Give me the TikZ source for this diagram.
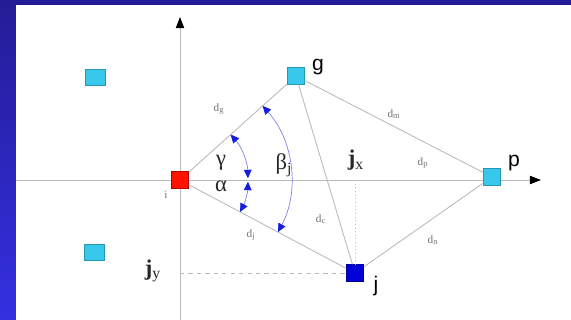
\documentclass[tikz,border=0pt]{standalone}
\usepackage{fontspec}
\setmainfont{Liberation Serif}
\newfontfamily\namefont{Liberation Sans}
\usetikzlibrary{arrows.meta}

\definecolor{slidedark}{RGB}{36,28,150}
\definecolor{slidelight}{RGB}{52,48,225}
\definecolor{sensorcyan}{RGB}{55,200,235}
\definecolor{linegray}{RGB}{185,185,185}
\definecolor{arcblue}{RGB}{20,30,220}

\begin{document}
\begin{tikzpicture}[
			x=0.025cm, y=-0.025cm,
			anchorbox/.style={rectangle, draw=sensorcyan!75!black, fill=sensorcyan, minimum size=4.25mm, inner sep=0pt},
			edge/.style={draw=linegray, line width=0.6pt},
			anglearc/.style={draw=arcblue!55, line width=0.5pt, {Triangle[length=6pt,width=5.5pt,arcblue]}-{Triangle[length=6pt,width=5.5pt,arcblue]}},
			dist/.style={text=gray!90!black, font=\fontsize{8}{9}\selectfont},
			vertexlabel/.style={font=\namefont\fontsize{15}{18}\selectfont},
			greek/.style={text=black!85, font=\fontsize{16}{18}\selectfont}
			]
			\useasboundingbox (0,0) rectangle (571,320);
			% slide background
			\fill[top color=slidedark, bottom color=slidelight] (0,0) rectangle (571,320);
			\fill[white] (16,5) rectangle (571,320);
			
			% axes
			\coordinate (xstart) at (16,180);
			\coordinate (xend) at (541,180);
			\coordinate (ystart) at (180,320);
			\coordinate (yend) at (180,17);
			\draw[linegray, line width=0.6pt, -{Triangle[black,length=8pt,width=6pt]}] (xstart) -- (xend);
			\draw[linegray, line width=0.6pt, -{Triangle[black,length=8pt,width=6pt]}] (ystart) -- (yend);
			
			% nodes
			\node[anchorbox, fill=red!85!orange, draw=red!70!black] (i) at (180,180) {};
			\node[anchorbox] (g) at (296,76) {};
			\node[anchorbox] (p) at (492,177) {};
			\node[anchorbox, fill=blue!85!black, draw=blue!60!black] (j) at (355,273) {};
			\node[anchorbox, minimum width=5mm, minimum height=4mm] (n1) at (95,77) {};
			\node[anchorbox, minimum width=5mm, minimum height=4mm] (n2) at (94,252) {};
			
			\coordinate (jxfoot) at (j |- i);
			\coordinate (jyfoot) at (i |- j);
			
			% edges
			\draw[edge] (i) -- (g);
			\draw[edge] (i) -- (j);
			\draw[edge] (g) -- (p);
			\draw[edge] (g) -- (j);
			\draw[edge] (j) -- (p);
			\draw[linegray, dotted, line width=0.6pt] (jxfoot) -- (j);
			\draw[linegray, dashed, line width=0.6pt] (jyfoot) -- (j);
			
			% angles
			\draw[anglearc] ([shift={(-41.9:68)}]i.center) arc (-41.9:-1.5:68);
			\draw[anglearc] ([shift={(28:68)}]i.center) arc (28:1.5:68);
			\draw[anglearc] ([shift={(-41.9:111)}]i.center) arc (-41.9:28:111);
			
			% labels
			\node[vertexlabel] (glabel) at (318,67) {g};
			\node[vertexlabel] (plabel) at (514,163) {p};
			\node[vertexlabel] (jlabel) at (376,286) {j};
			\node[dist] (ilabel) at (166,195) {i};
			\node[greek] (gammalabel) at (221,163) {γ};
			\node[greek] (alphalabel) at (221,186) {α};
			\node[greek] (betalabel) at (284,165) {β\textsubscript{j}};
			\node[greek] (jxlabel) at (356,160) {\textbf{j}\textsubscript{x}};
			\node[greek] (jylabel) at (153,271) {\textbf{j}\textsubscript{y}};
			\node[dist] (dig) at (219,109) {d\textsubscript{g}};
			\node[dist] (dgp) at (394,114) {d\textsubscript{m}};
			\node[dist] (dip) at (423,163) {d\textsubscript{p}};
			\node[dist] (dgj) at (321,219) {d\textsubscript{c}};
			\node[dist] (dij) at (251,235) {d\textsubscript{j}};
			\node[dist] (djp) at (433,240) {d\textsubscript{n}};
		\end{tikzpicture}
\end{document}
